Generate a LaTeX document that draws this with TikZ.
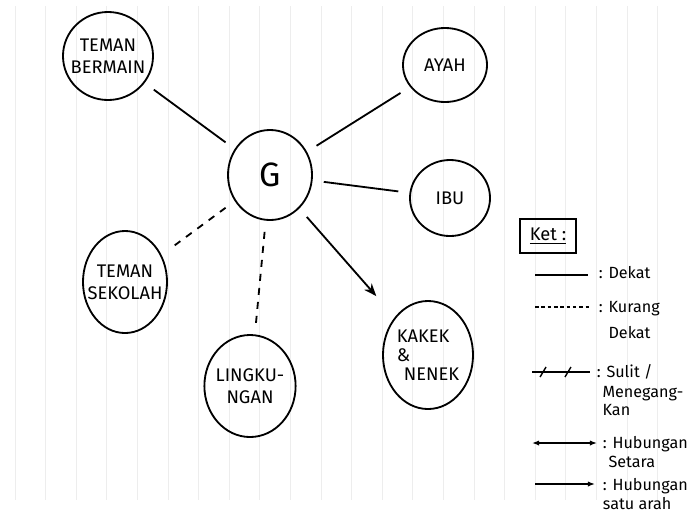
\documentclass[tikz,border=0pt]{standalone}
\usepackage{fontspec}
\setmainfont{Fira Sans}
\usetikzlibrary{arrows.meta, shapes.geometric}

\begin{document}
\begin{tikzpicture}[x=0.025cm, y=-0.025cm, line width=1.3pt,
    every node/.style={font=\fontsize{13}{15.5}\selectfont},
    person/.style={draw, ellipse, inner sep=0pt},
    link/.style={shorten <=8pt, shorten >=8pt},
    weak/.style={link, dash pattern=on 5pt off 5pt},
    legline/.style={line width=1pt},
    legtxt/.style={anchor=north west, align=left, inner sep=0pt, font=\fontsize{11.5}{14}\selectfont},
    paper/.style={line width=0.6pt, black!7}]

\useasboundingbox (0,0) rectangle (694,515);
\foreach \i in {0,...,21}
  \draw[paper] ({15+30.6*\i},6) -- ++(0,494);

\node[person, minimum width=2.1cm, minimum height=2.25cm, label={[font=\fontsize{24}{24}\selectfont]center:G}] (g) at (270,175) {};
\node[person, minimum width=2.25cm, minimum height=2.2cm, label={[align=center]center:TEMAN\\BERMAIN}] (bermain) at (108,56) {};
\node[person, minimum width=2.1cm, minimum height=1.85cm, label={center:AYAH}] (ayah) at (445,65) {};
\node[person, minimum width=2.0cm, minimum height=1.9cm, label={center:IBU}] (ibu) at (450,198) {};
\node[person, minimum width=2.1cm, minimum height=2.55cm, label={[align=center]center:TEMAN\\SEKOLAH}] (sekolah) at (125,282) {};
\node[person, minimum width=2.28cm, minimum height=2.55cm, label={[align=center]center:LINGKU-\\NGAN}] (lingkungan) at (250,386) {};
\node[person, minimum width=2.25cm, minimum height=2.7cm, label={[align=left]center:KAKEK\\[-2pt]\&\\[-2pt]\hspace{5pt}NENEK}] (kakek) at (428,355) {};

\draw[link] (bermain) -- (g);
\draw[link] (g) -- (ayah);
\draw[link] (g) -- (ibu);
\draw[weak] (g) -- (sekolah);
\draw[weak] (g) -- (lingkungan);
\draw[link, -{Stealth[length=9pt, width=7pt]}, shorten >=0.7cm] (g) -- (kakek);

\node[draw, line width=1pt, minimum width=1.4cm, minimum height=0.85cm] (ket) at (548,236) {\underline{Ket :}};

\coordinate (d1) at (535,275); \coordinate (d2) at (588,275);
\coordinate (k1) at (535,307); \coordinate (k2) at (590,307);
\coordinate (s1) at (532,372); \coordinate (s2) at (590,372);
\coordinate (h1) at (532,443); \coordinate (h2) at (597,443);
\coordinate (a1) at (535,484); \coordinate (a2) at (595,484);

\draw[legline] (d1) -- (d2);
\draw[legline, dash pattern=on 2.5pt off 2pt] (k1) -- (k2);
\draw[legline] (s1) -- (s2);
\path (s1) -- (s2) coordinate[pos=.19] (t1) coordinate[pos=.62] (t2);
\foreach \t in {t1,t2}
  \draw[legline] ([shift={(-3,5)}]\t) -- ([shift={(3,-5)}]\t);
\draw[legline, {Latex[length=5pt]}-{Latex[length=5pt]}] (h1) -- (h2);
\draw[legline, -{Latex[length=5pt]}] (a1) -- (a2);

\node[legtxt] (ldekat) at (598,265) {: Dekat};
\node[legtxt] (lkurang) at (598,300) {: Kurang\\[5pt]\hphantom{: }Dekat};
\node[legtxt] (lsulit) at (596,364) {: Sulit /\\\hspace{4pt}Menegang-\\[-1pt]\hspace{4pt}Kan};
\node[legtxt] (lsetara) at (602,435) {: Hubungan\\\hspace{4pt}Setara};
\node[legtxt] (larah) at (602,477) {: Hubungan\\satu arah};
\end{tikzpicture}
\end{document}
